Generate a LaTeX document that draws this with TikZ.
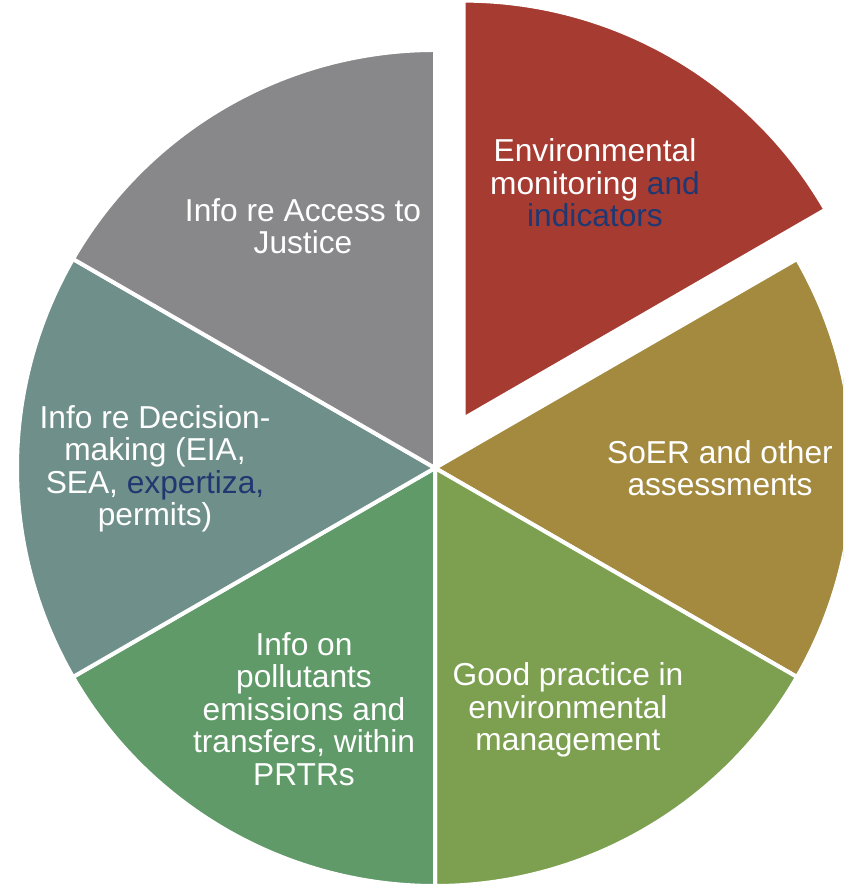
\documentclass[tikz,border=0pt]{standalone}
\usepackage{fontspec}
\setmainfont{Liberation Sans}
\usepackage{xcolor}
\usetikzlibrary{positioning}
\definecolor{slicered}{HTML}{A63B31}
\definecolor{sliceolive}{HTML}{A38A3F}
\definecolor{slicelime}{HTML}{7CA050}
\definecolor{slicegreen}{HTML}{5F9A68}
\definecolor{sliceteal}{HTML}{6F908A}
\definecolor{slicegray}{HTML}{88888A}
\definecolor{navytext}{HTML}{1F3872}
\tikzstyle{slice} = [draw=white, line width=4pt]
\tikzstyle{slicetext} = [text=white, align=center, font=\fontsize{31.7}{32.5}\selectfont]

\begin{document}
\begin{tikzpicture}[x=1pt, y=1pt]
    \useasboundingbox (0,0) rectangle (843,890);
    \clip (0,0) rectangle (843,890);
    \coordinate (c) at (435,422);

    % the five slices in place
    \foreach \s/\e/\col in {-30/30/sliceolive, -90/-30/slicelime, -150/-90/slicegreen, 150/210/sliceteal, 90/150/slicegray}
        \fill[\col, slice] (c) -- ++(\s:418pt) arc[start angle=\s, end angle=\e, radius=418pt] -- cycle;

    % pulled-out slice
    \fill[slicered, slice] ([shift={(60:57pt)}]c) coordinate (cred) -- ++(30:418pt) arc[start angle=30, end angle=90, radius=418pt] -- cycle;

    \node[slicetext] (monitoring) at (595,707) {Environmental\\monitoring {\color{navytext}and}\\{\color{navytext}indicators}};
    \node[slicetext] (soer) at (720,422) {SoER and other\\assessments};
    \node[slicetext] (practice) at (568,180) {Good practice in\\environmental\\management};
    \node[slicetext] (prtr) at (304,181) {Info on\\pollutants\\emissions and\\transfers, within\\PRTRs};
    \node[slicetext] (decision) at (155,421) {Info re Decision-\\making (EIA,\\SEA, {\color{navytext}expertiza,}\\permits)};
    \node[slicetext] (justice) at (303,664) {Info re Access to\\Justice};
\end{tikzpicture}
\end{document}
